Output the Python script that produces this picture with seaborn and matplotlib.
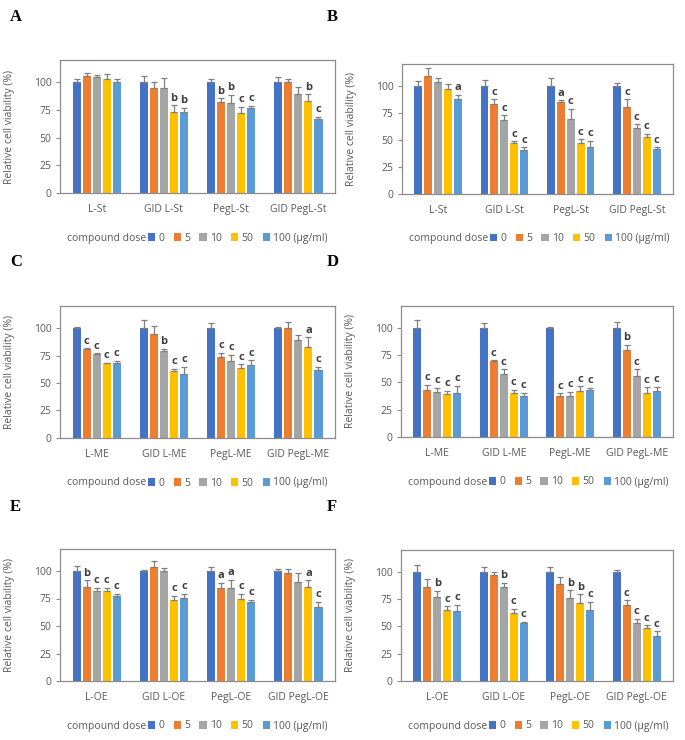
import pandas as pd
import matplotlib
matplotlib.use('Agg')
import matplotlib.pyplot as plt
import seaborn as sns

# dose levels (µg/ml) and Excel-like colours
doses = ['0', '5', '10', '50', '100']
dose_labels = ['0', '5', '10', '50', '100 (\u03bcg/ml)']
colors = ['#4472C4', '#ED7D31', '#A5A5A5', '#FFC000', '#5B9BD5']

st_groups = ['L-St', 'GID L-St', 'PegL-St', 'GID PegL-St']
me_groups = ['L-ME', 'GID L-ME', 'PegL-ME', 'GID PegL-ME']
oe_groups = ['L-OE', 'GID L-OE', 'PegL-OE', 'GID PegL-OE']

# one row per group, columns = dose 0, 5, 10, 50, 100
a_mean = [[100, 105.5, 105, 103, 100], [100, 95, 95, 73, 73],
          [100, 82, 81, 72, 77], [100, 100, 89, 83, 66.5]]
a_err = [[2.5, 2.5, 1.5, 4.5, 3], [6, 5.5, 9, 6, 4],
         [2.5, 3.5, 7.5, 6, 1.5], [4.5, 2.5, 6.5, 6, 2.5]]
a_sig = [['', '', '', '', ''], ['', '', '', 'b', 'b'],
         ['', 'b', 'b', 'c', 'c'], ['', '', '', 'b', 'c']]

b_mean = [[100, 108.5, 103, 97, 87.5], [100, 83, 68.5, 47, 41],
          [100, 84.5, 69, 47.5, 43.5], [100, 80, 61, 52.5, 42]]
b_err = [[4.5, 7.5, 4.5, 5, 4], [5.5, 4.5, 4, 1.5, 2],
         [7, 2, 9.5, 3, 5.5], [2.5, 7.5, 3.5, 3, 1]]
b_sig = [['', '', '', '', 'a'], ['', 'c', 'c', 'c', 'c'],
         ['', 'a', 'c', 'c', 'c'], ['', 'c', 'c', 'c', 'c']]

c_mean = [[100, 81, 76.5, 68, 68.5], [100, 95, 79, 60.5, 58],
          [100, 73.5, 70, 63.5, 66], [100, 100, 89, 83, 62]]
c_err = [[0.5, 0.5, 0.5, 0.3, 1.5], [7, 6.5, 2, 2.5, 7],
         [5, 4, 5.5, 3.5, 4.5], [0.5, 5.5, 5, 8.5, 2.5]]
c_sig = [['', 'c', 'c', 'c', 'c'], ['', '', 'b', 'c', 'c'],
         ['', 'c', 'c', 'c', 'c'], ['', '', '', 'a', 'c']]

d_mean = [[100, 43, 41, 39.5, 40.5], [100, 70, 58, 40.5, 37.5],
          [100, 37.5, 37.5, 42, 43], [100, 79.5, 56, 40.5, 42]]
d_err = [[7.5, 5, 4, 3, 6.5], [4.5, 0.3, 4, 2.5, 3],
         [0.5, 2.5, 4, 4.5, 2], [5.5, 5, 6, 5, 4]]
d_sig = [['', 'c', 'c', 'c', 'c'], ['', 'c', 'c', 'c', 'c'],
         ['', 'c', 'c', 'c', 'c'], ['', 'b', 'c', 'c', 'c']]

e_mean = [[100, 85.5, 82, 82, 77], [100, 103.5, 100, 74, 75.5],
          [100, 84.5, 84.5, 75, 72], [100, 98, 90, 85.5, 67.5]]
e_err = [[4.5, 6, 2.5, 2.5, 2], [1, 5.5, 2.5, 3.5, 4],
         [4, 4.5, 7.5, 4, 2], [2, 3.5, 8, 6, 4.5]]
e_sig = [['', 'b', 'c', 'c', 'c'], ['', '', '', 'c', 'c'],
         ['', 'a', 'a', 'c', 'c'], ['', '', '', 'a', 'c']]

f_mean = [[100, 86, 77, 65, 64], [100, 97, 86, 62.5, 53],
          [100, 88.5, 76, 71.5, 65], [100, 70, 53, 49, 41.5]]
f_err = [[6, 7, 5.5, 3.5, 6], [4, 2.5, 4, 3.5, 1.5],
         [4, 7, 7, 8, 7.5], [1.5, 4, 4, 2, 4]]
f_sig = [['', '', 'b', 'c', 'c'], ['', '', 'b', 'c', 'c'],
         ['', '', 'b', 'b', 'c'], ['', 'c', 'c', 'c', 'c']]

W, H = 685, 740
plt.rcParams['font.family'] = ['Open Sans', 'DejaVu Sans']
fig = plt.figure(figsize=(W / 100, H / 100), dpi=100)


def fx(x):
    return x / W


def fy(y):
    return 1 - y / H


def panel(letter, box, groups, mean, err, sig, letter_x, letter_y):
    x0, y0, x1, y1 = box
    ax = fig.add_axes([fx(x0), fy(y1), fx(x1 - x0), (y1 - y0) / H])
    rows = []
    for g, vals in zip(groups, mean):
        for d, v in zip(doses, vals):
            rows.append({'group': g, 'dose': d, 'value': v})
    df = pd.DataFrame(rows)
    sns.barplot(data=df, x='group', y='value', hue='dose', order=groups,
                hue_order=doses, palette=colors, saturation=1, width=0.75,
                gap=0.2, errorbar=None, legend=False, ax=ax)
    bars = list(ax.containers)
    for i, cont in enumerate(bars):
        for j, bar in enumerate(cont.patches):
            xc = bar.get_x() + bar.get_width() / 2
            h = bar.get_height()
            e = err[j][i]
            ax.errorbar(xc, h, yerr=[[0], [e]], fmt='none', ecolor='#7F7F7F',
                        elinewidth=0.9, capsize=2.5, capthick=0.9)
            if sig[j][i]:
                ax.text(xc, h + e + 1.5, sig[j][i], ha='center', va='bottom',
                        fontsize=8, fontweight='bold', color='#404040')
    ax.set_ylim(0, 120)
    ax.set_yticks([0, 25, 50, 75, 100])
    ax.set_xlabel('')
    ax.set_ylabel('Relative cell viability (%)', fontsize=7.5, color='#595959')
    ax.yaxis.set_label_coords(-45 / (x1 - x0), 0.5)
    ax.tick_params(axis='y', labelsize=7.5, labelcolor='#595959',
                   length=3, color='#8C8C8C', width=0.8, pad=3)
    ax.tick_params(axis='x', labelsize=7.5, labelcolor='#595959',
                   length=0, pad=8)
    for s in ax.spines.values():
        s.set_color('#8C8C8C')
        s.set_linewidth(0.9)
    ax.set_facecolor('white')

    # legend row under the axes
    fig.text(fx(x0 + 7), fy(y1 + 45), 'compound dose', fontsize=7.5,
             color='#595959', ha='left', va='center')
    ax.legend(bars, dose_labels, ncol=5, frameon=False,
              loc='center left', bbox_to_anchor=(fx(x0 + 88), fy(y1 + 45)),
              bbox_transform=fig.transFigure, fontsize=7.5,
              labelcolor='#595959', handlelength=0.7, handleheight=0.7,
              handletextpad=0.3, columnspacing=0.9, borderpad=0,
              borderaxespad=0)

    fig.text(fx(letter_x), fy(letter_y), letter, fontsize=12,
             fontweight='bold', family='Liberation Serif',
             ha='left', va='center')


panel('A', (60, 60, 335, 193), st_groups, a_mean, a_err, a_sig, 10, 17)
panel('B', (402, 64, 673, 194), st_groups, b_mean, b_err, b_sig, 327, 17)
panel('C', (60, 306, 335, 438), me_groups, c_mean, c_err, c_sig, 10, 262)
panel('D', (401, 306, 673, 437), me_groups, d_mean, d_err, d_sig, 327, 262)
panel('E', (60, 549, 335, 681), oe_groups, e_mean, e_err, e_sig, 10, 507)
panel('F', (401, 550, 673, 681), oe_groups, f_mean, f_err, f_sig, 327, 507)

fig.savefig('out.png', dpi=100, facecolor='white')
